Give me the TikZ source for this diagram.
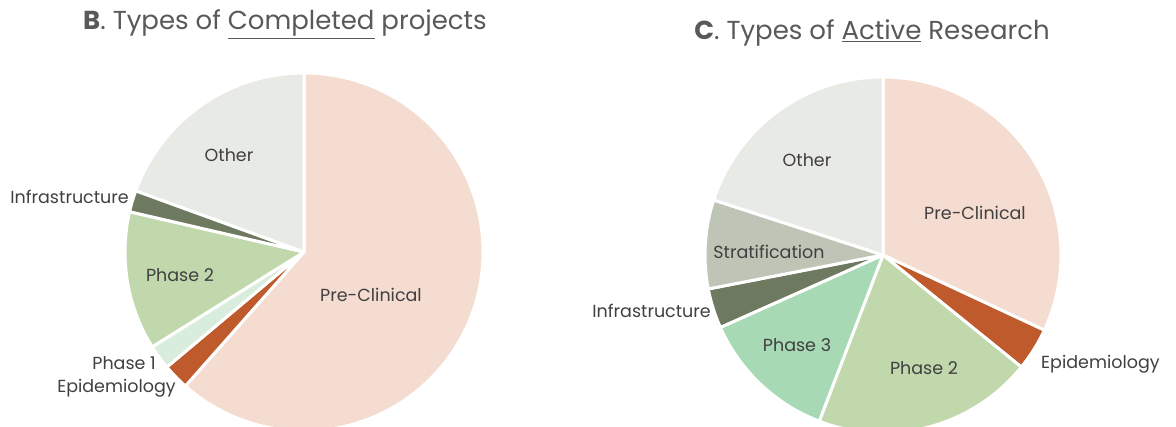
\documentclass[tikz,border=0pt]{standalone}
\usepackage{fontspec}
\setmainfont{Poppins}
\definecolor{preclin}{HTML}{F5DCD0}
\definecolor{epidem}{HTML}{BE5A2C}
\definecolor{phaseone}{HTML}{D9EDDC}
\definecolor{phasetwo}{HTML}{C1D7AC}
\definecolor{phasethree}{HTML}{A6D9B4}
\definecolor{infra}{HTML}{6D7A60}
\definecolor{strat}{HTML}{BFC5B6}
\definecolor{other}{HTML}{E8EAE5}
\definecolor{txt}{HTML}{404040}
\definecolor{ttl}{HTML}{595959}
\begin{document}
\begin{tikzpicture}[x=1pt,y=-1pt,
  slice/.style={draw=white,line width=3pt,line join=round},
  lbl/.style={text=txt,font=\fontsize{17.5}{20}\selectfont,inner sep=0pt},
  ttlbl/.style={text=ttl,font=\fontsize{26}{30}\selectfont,inner sep=0pt}]
\useasboundingbox (0,0) rectangle (1176,427);
\clip (0,0) rectangle (1176,427);
\coordinate (cB) at (304,252);
\coordinate (cC) at (883,255);
\filldraw[slice,fill=preclin] (cB) -- ++(90:179pt) arc[start angle=90,end angle=-131.5,radius=179pt] -- cycle;
\filldraw[slice,fill=epidem] (cB) -- ++(228.5:179pt) arc[start angle=228.5,end angle=220,radius=179pt] -- cycle;
\filldraw[slice,fill=phaseone] (cB) -- ++(220:179pt) arc[start angle=220,end angle=212,radius=179pt] -- cycle;
\filldraw[slice,fill=phasetwo] (cB) -- ++(212:179pt) arc[start angle=212,end angle=167,radius=179pt] -- cycle;
\filldraw[slice,fill=infra] (cB) -- ++(167:179pt) arc[start angle=167,end angle=160,radius=179pt] -- cycle;
\filldraw[slice,fill=other] (cB) -- ++(160:179pt) arc[start angle=160,end angle=90,radius=179pt] -- cycle;
\filldraw[slice,fill=preclin] (cC) -- ++(90:178pt) arc[start angle=90,end angle=-25,radius=178pt] -- cycle;
\filldraw[slice,fill=epidem] (cC) -- ++(-25:178pt) arc[start angle=-25,end angle=-39,radius=178pt] -- cycle;
\filldraw[slice,fill=phasetwo] (cC) -- ++(-39:178pt) arc[start angle=-39,end angle=-111,radius=178pt] -- cycle;
\filldraw[slice,fill=phasethree] (cC) -- ++(249:178pt) arc[start angle=249,end angle=204,radius=178pt] -- cycle;
\filldraw[slice,fill=infra] (cC) -- ++(204:178pt) arc[start angle=204,end angle=191,radius=178pt] -- cycle;
\filldraw[slice,fill=strat] (cC) -- ++(191:178pt) arc[start angle=191,end angle=162,radius=178pt] -- cycle;
\filldraw[slice,fill=other] (cC) -- ++(162:178pt) arc[start angle=162,end angle=90,radius=178pt] -- cycle;
\node[ttlbl] (titleB) at (285,24) {\textbf{B}. Types of \underline{Completed} projects};
\node[ttlbl] (titleC) at (872,33) {\textbf{C}. Types of \underline{Active} Research};
\node[lbl] (bOther) at (229,155) {Other};
\node[lbl,anchor=east] (bInfra) at (129,197) {Infrastructure};
\node[lbl] (bPhaseTwo) at (180,275) {Phase 2};
\node[lbl,anchor=east] (bPhaseOne) at (156,363) {Phase 1};
\node[lbl,anchor=east] (bEpidem) at (176,388) {Epidemiology};
\node[lbl] (bPreclin) at (371,295) {Pre-Clinical};
\node[lbl] (cOther) at (807,160) {Other};
\node[lbl] (cPreclin) at (975,213) {Pre-Clinical};
\node[lbl] (cStrat) at (769,252) {Stratification};
\node[lbl,anchor=east] (cInfra) at (711,311) {Infrastructure};
\node[lbl] (cPhaseThree) at (797,345) {Phase 3};
\node[lbl] (cPhaseTwo) at (924,368) {Phase 2};
\node[lbl,anchor=west] (cEpidem) at (1041,364) {Epidemiology};
\end{tikzpicture}
\end{document}
